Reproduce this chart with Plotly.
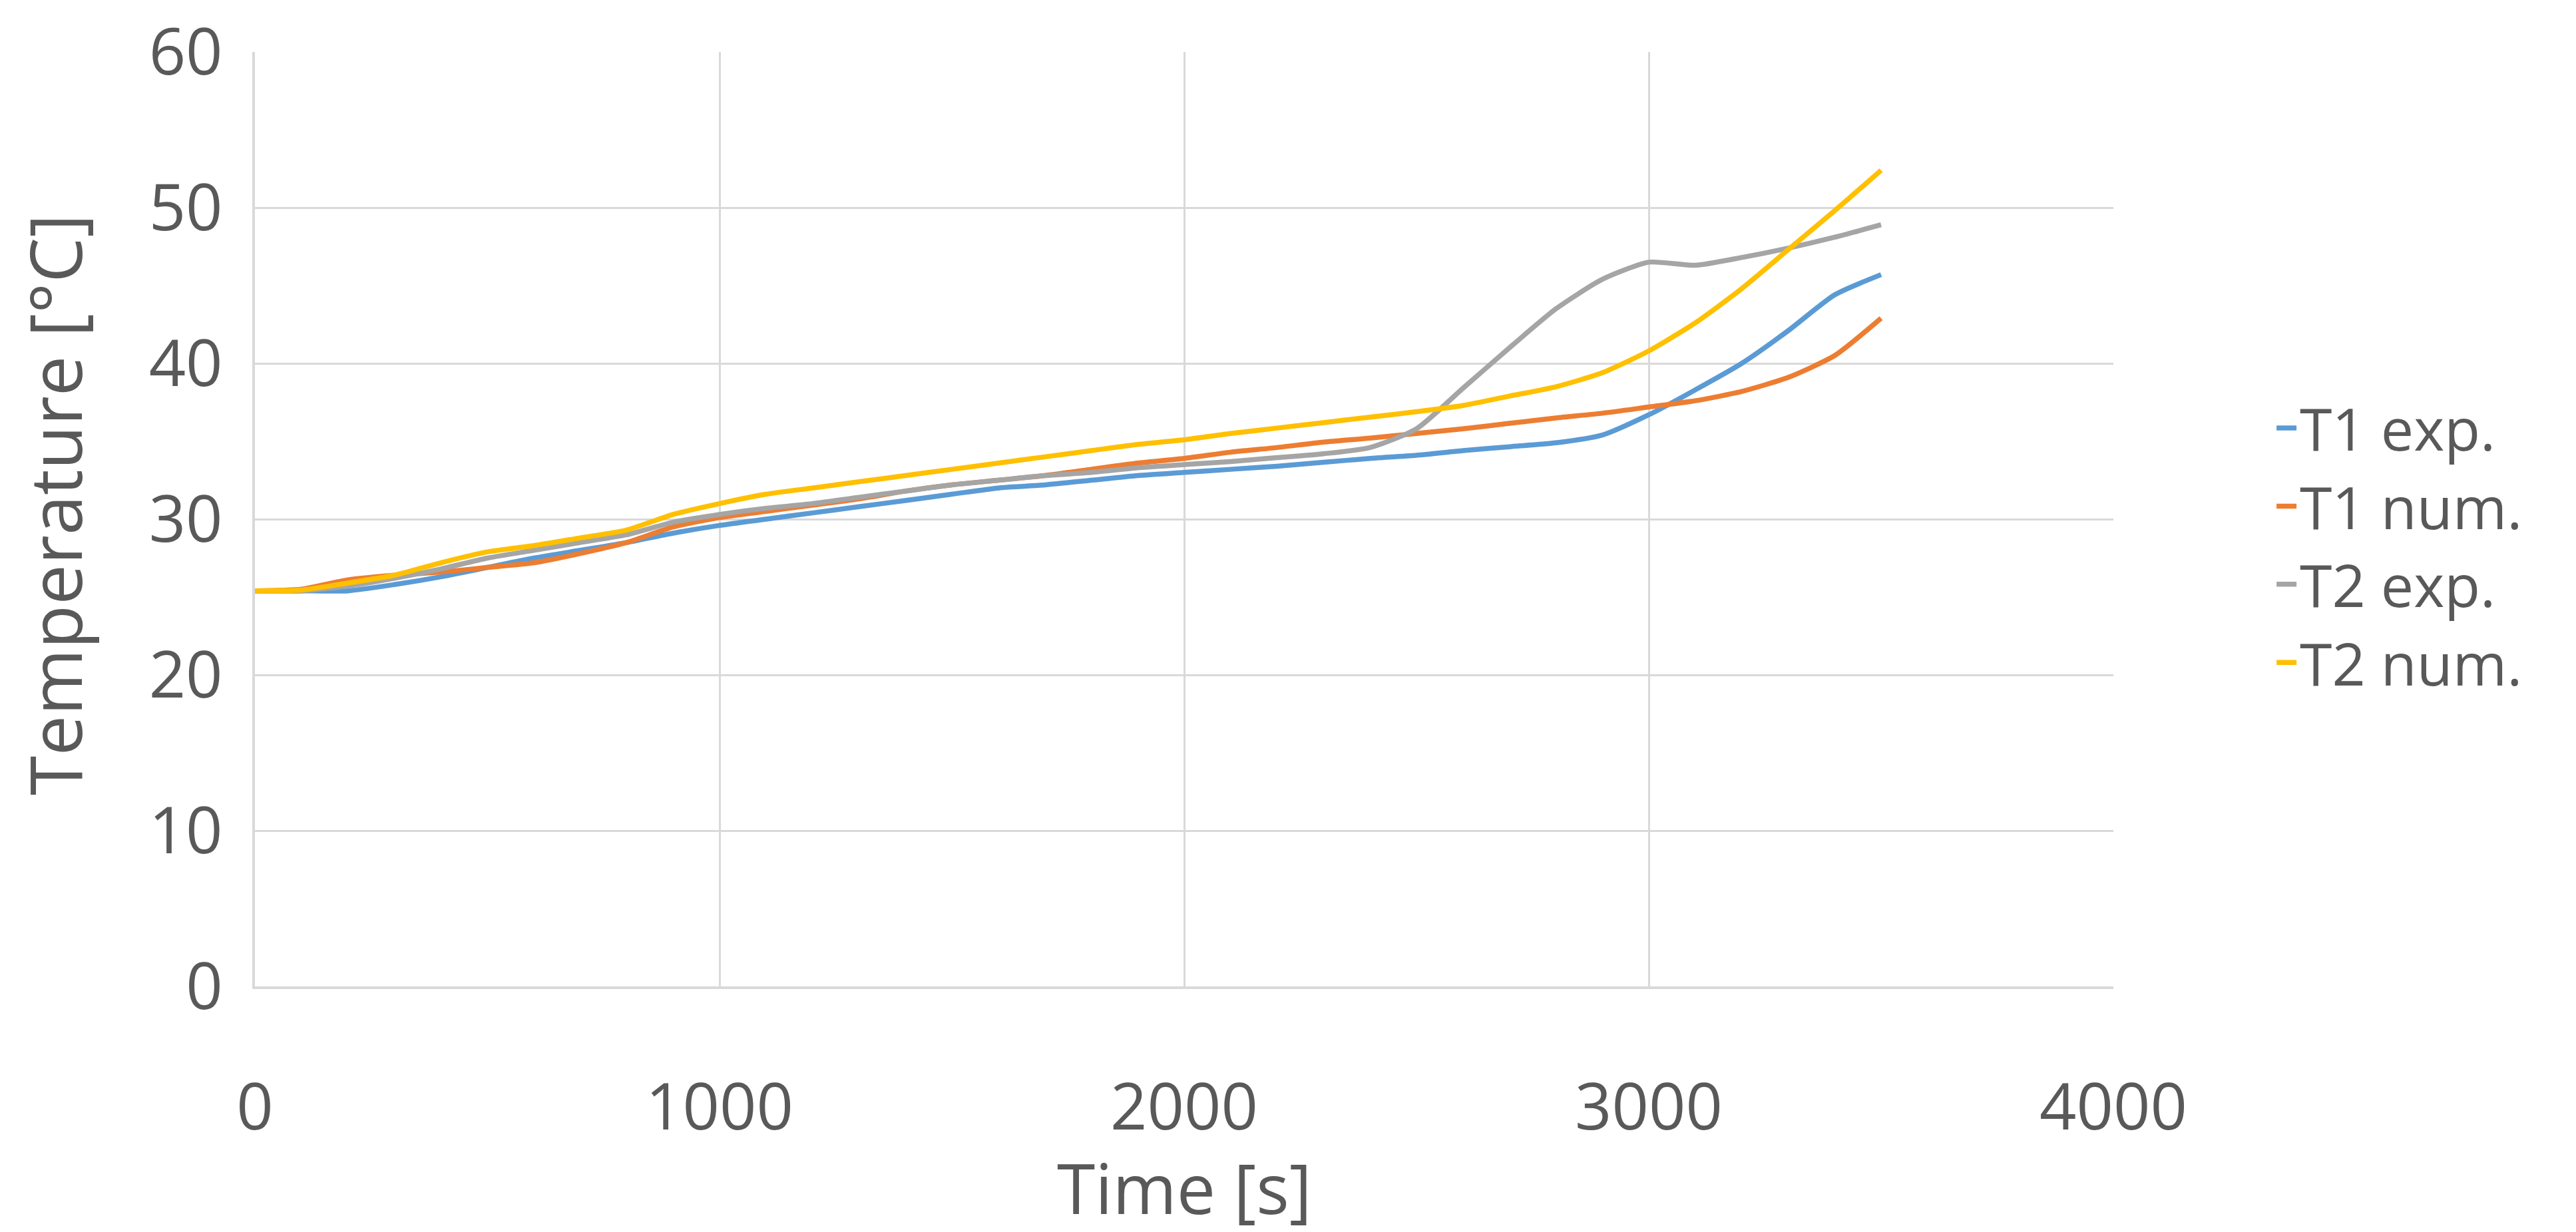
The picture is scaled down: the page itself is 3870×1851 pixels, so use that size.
import plotly.graph_objects as go

time_s = [0, 100, 200, 300, 400, 500, 600, 700, 800, 900,
          1000, 1100, 1200, 1300, 1400, 1500, 1600, 1700, 1800, 1900,
          2000, 2100, 2200, 2300, 2400, 2500, 2600, 2700, 2800, 2900,
          3000, 3100, 3200, 3300, 3400, 3500]

t1_exp = [25.4, 25.4, 25.4, 25.8, 26.3, 26.9, 27.5, 28.0, 28.5, 29.1,
          29.6, 30.0, 30.4, 30.8, 31.2, 31.6, 32.0, 32.2, 32.5, 32.8,
          33.0, 33.2, 33.4, 33.65, 33.9, 34.1, 34.4, 34.65, 34.9, 35.4,
          36.7, 38.3, 40.0, 42.1, 44.4, 45.7]

t1_num = [25.4, 25.5, 26.1, 26.4, 26.6, 26.9, 27.2, 27.8, 28.5, 29.5,
          30.1, 30.5, 30.9, 31.3, 31.8, 32.2, 32.5, 32.8, 33.2, 33.6,
          33.9, 34.3, 34.6, 34.95, 35.2, 35.5, 35.8, 36.15, 36.5, 36.8,
          37.2, 37.6, 38.2, 39.1, 40.5, 42.9]

t2_exp = [25.4, 25.4, 25.7, 26.2, 26.8, 27.5, 28.0, 28.5, 29.0, 29.8,
          30.3, 30.7, 31.0, 31.4, 31.8, 32.2, 32.5, 32.8, 33.0, 33.3,
          33.5, 33.7, 33.95, 34.2, 34.6, 35.8, 38.4, 41.0, 43.5, 45.4,
          46.5, 46.3, 46.8, 47.4, 48.1, 48.9]

t2_num = [25.4, 25.45, 25.9, 26.4, 27.2, 27.9, 28.3, 28.8, 29.3, 30.3,
          31.0, 31.6, 32.0, 32.4, 32.8, 33.2, 33.6, 34.0, 34.4, 34.8,
          35.1, 35.5, 35.85, 36.2, 36.55, 36.9, 37.3, 37.9, 38.5, 39.4,
          40.8, 42.6, 44.8, 47.3, 49.8, 52.4]

series_names = ["T1 exp.", "T1 num.", "T2 exp.", "T2 num."]
series_values = [t1_exp, t1_num, t2_exp, t2_num]
series_colors = ["#5B9BD5", "#ED7D31", "#A5A5A5", "#FFC000"]

x_ticks = [0, 1000, 2000, 3000, 4000]
y_ticks = [0, 10, 20, 30, 40, 50, 60]

FONT = "Open Sans"
TXT = "#595959"
GRID = "#D9D9D9"

fig = go.Figure()
for name, vals, col in zip(series_names, series_values, series_colors):
    fig.add_trace(go.Scatter(
        x=time_s, y=vals, name=name, mode="lines",
        line=dict(color=col, width=7.5, shape="spline", smoothing=0.6),
    ))

fig.update_layout(
    width=3870, height=1851,
    paper_bgcolor="white", plot_bgcolor="white",
    margin=dict(l=375, r=703, t=70, b=377, autoexpand=False),
    font=dict(family=FONT, color=TXT, size=97),
    showlegend=True,
    legend=dict(
        x=1.086, xanchor="left", y=0.472, yanchor="middle",
        font=dict(family=FONT, size=88, color=TXT),
        bgcolor="rgba(0,0,0,0)", itemwidth=30,
    ),
    annotations=[
        dict(text="Time [s]", xref="paper", yref="paper", x=0.5, y=-0.2144,
             xanchor="center", yanchor="middle", showarrow=False,
             font=dict(family=FONT, size=104, color=TXT)),
        dict(text="Temperature [°C]", xref="paper", yref="paper", x=-0.108, y=0.516,
             xanchor="center", yanchor="middle", showarrow=False, textangle=-90,
             font=dict(family=FONT, size=108, color=TXT)),
    ],
)

fig.update_xaxes(
    range=[0, 4000], tickvals=x_ticks, ticktext=[str(v) for v in x_ticks],
    showgrid=True, gridcolor=GRID, gridwidth=3,
    showline=True, linecolor=GRID, linewidth=4,
    zeroline=False, ticks="", ticklabelstandoff=95, ticklabeloverflow="allow",
    tickfont=dict(family=FONT, size=97, color=TXT),
)
fig.update_yaxes(
    range=[0, 60], tickvals=y_ticks, ticktext=[str(v) for v in y_ticks],
    showgrid=True, gridcolor=GRID, gridwidth=3,
    showline=True, linecolor=GRID, linewidth=4,
    zeroline=False, ticks="", ticklabelstandoff=25, ticklabeloverflow="allow",
    tickfont=dict(family=FONT, size=97, color=TXT),
)

fig.write_html("out.html")
